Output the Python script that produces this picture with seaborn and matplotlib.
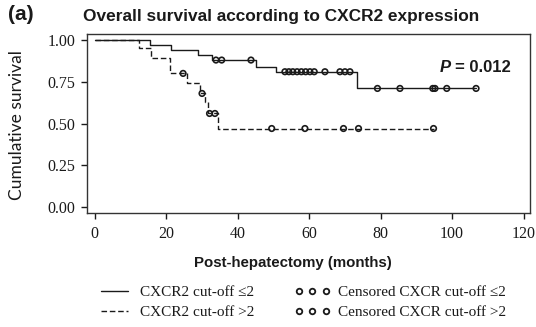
import numpy as np
import pandas as pd
import matplotlib
matplotlib.use("Agg")
import matplotlib.pyplot as plt
from matplotlib.lines import Line2D
import seaborn as sns

# Kaplan-Meier steps: time of each event (months) and survival level after it
low_times = [0, 15.4, 21.3, 28.8, 32.7, 45.0, 50.6, 73.3, 106.7]
low_surv = [1.00, 0.97, 0.94, 0.91, 0.88, 0.84, 0.81, 0.71, 0.71]
low_censored = [33.9, 35.5, 43.7, 53.2, 54.3, 55.4, 56.6, 57.8, 59.0, 60.2, 61.4,
                64.4, 68.6, 70.0, 71.4, 79.1, 85.4, 94.6, 95.2, 98.5, 106.7]

high_times = [0, 12.4, 15.6, 21.0, 25.9, 29.4, 30.9, 31.6, 34.5, 94.8]
high_surv = [1.00, 0.95, 0.89, 0.80, 0.74, 0.68, 0.63, 0.56, 0.47, 0.47]
high_censored = [24.7, 30.0, 32.1, 33.6, 49.5, 58.8, 69.6, 73.8, 94.8]

x_ticks = [0, 20, 40, 60, 80, 100, 120]
y_ticks = [0.00, 0.25, 0.50, 0.75, 1.00]

INK = "#1a1a1a"


def level_at(times, surv, t):
    idx = np.searchsorted(times, t, side="right") - 1
    return np.asarray(surv)[idx]


curves = pd.concat([
    pd.DataFrame({"month": low_times, "survival": low_surv, "group": "low"}),
    pd.DataFrame({"month": high_times, "survival": high_surv, "group": "high"}),
], ignore_index=True)

censors = pd.concat([
    pd.DataFrame({"month": low_censored,
                  "survival": level_at(low_times, low_surv, low_censored),
                  "group": "low"}),
    pd.DataFrame({"month": high_censored,
                  "survival": level_at(high_times, high_surv, high_censored),
                  "group": "high"}),
], ignore_index=True)

sns.set_theme(style="ticks")
plt.rcParams["font.family"] = ["Liberation Serif", "DejaVu Serif"]

fig = plt.figure(figsize=(5.36, 3.27), dpi=100)
ax = fig.add_axes([87 / 536, 1 - 213 / 327, (530 - 87) / 536, (213 - 34) / 327])

sns.lineplot(data=curves, x="month", y="survival", style="group",
             style_order=["low", "high"], dashes={"low": "", "high": (4, 2)},
             estimator=None, sort=False, drawstyle="steps-post",
             color=INK, linewidth=1.0, legend=False, ax=ax)

sns.scatterplot(data=censors, x="month", y="survival", marker="o", s=16,
                color=INK, edgecolor=INK, linewidth=1.2, legend=False,
                ax=ax, zorder=3)
ax.collections[-1].set_facecolor("none")

ax.set_xlim(-2.2, 121.8)
ax.set_ylim(-0.036, 1.036)
ax.set_xticks(x_ticks)
ax.set_yticks(y_ticks)
ax.set_xticklabels([str(v) for v in x_ticks])
ax.set_yticklabels([f"{v:.2f}" for v in y_ticks])
ax.tick_params(axis="both", direction="out", colors=INK, labelsize=11.5,
               width=1.0)
ax.tick_params(axis="x", length=4.3, pad=5)
ax.tick_params(axis="y", length=4, pad=4.5)
for side in ["left", "right", "top", "bottom"]:
    ax.spines[side].set_visible(True)
    ax.spines[side].set_color("#333333")
    ax.spines[side].set_linewidth(1.0)
ax.set_xlabel("")
ax.set_ylabel("")

sans = ["Liberation Sans", "DejaVu Sans"]
fig.text(8 / 536, 1 - 15 / 327, "(a)", family=sans, weight="bold",
         fontsize=15, ha="left", va="center", color=INK)
fig.text(83 / 536, 1 - 16 / 327, "Overall survival according to CXCR2 expression",
         family=sans, weight="bold", fontsize=12.4, ha="left", va="center",
         color=INK)
fig.text(293 / 536, 1 - 263 / 327, "Post-hepatectomy (months)", family=sans,
         weight="bold", fontsize=10.8, ha="center", va="center", color=INK)
fig.text(17 / 536, 1 - 125 / 327, "Cumulative survival", family=["Lato", "DejaVu Sans"],
         fontsize=12.5, rotation=90, ha="center", va="center", color=INK)

fig.text(440 / 536, 1 - 67 / 327, "P", family=sans, weight="bold",
         style="italic", fontsize=12, ha="left", va="center", color=INK)
fig.text(455 / 536, 1 - 67 / 327, "= 0.012", family=sans, weight="bold",
         fontsize=12, ha="left", va="center", color=INK)

handles = [
    Line2D([], [], color=INK, linewidth=1.0),
    Line2D([], [], color=INK, linewidth=1.0, dashes=(4, 2)),
    Line2D([], [], color=INK, linestyle="none", marker="o", markersize=4,
           markerfacecolor="none", markeredgewidth=1.3),
    Line2D([], [], color=INK, linestyle="none", marker="o", markersize=4,
           markerfacecolor="none", markeredgewidth=1.3),
]
labels = ["CXCR2 cut-off \u22642", "CXCR2 cut-off >2",
          "Censored CXCR cut-off \u22642", "Censored CXCR cut-off >2"]
fig.legend(handles, labels, ncol=2, loc="center", numpoints=3,
           bbox_to_anchor=(301 / 536, 1 - 302.5 / 327), frameon=False,
           fontsize=11, handlelength=2.4, handletextpad=0.45,
           columnspacing=2.6, labelspacing=0.42, labelcolor=INK)

fig.savefig("out.png", dpi=100, facecolor="white")
